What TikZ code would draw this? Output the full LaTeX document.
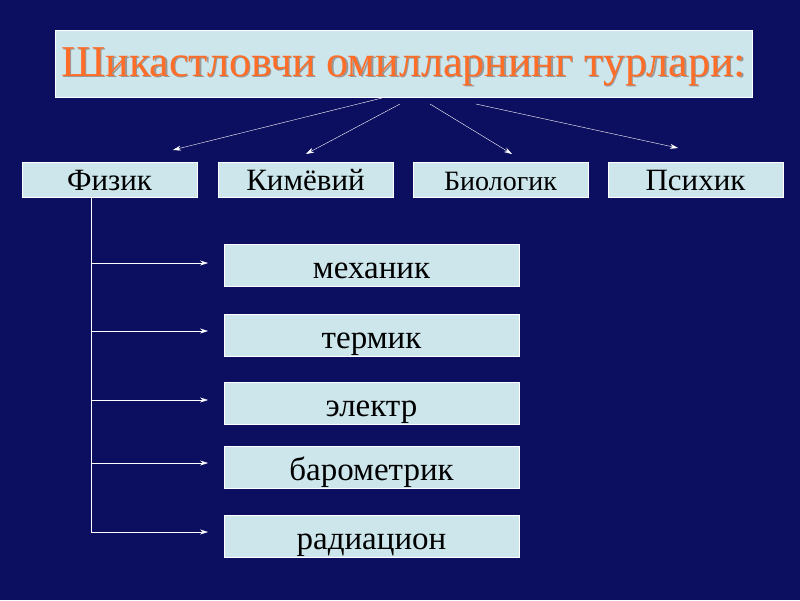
\documentclass[tikz,border=0pt]{standalone}
\usepackage{fontspec}
\setmainfont{Liberation Serif}
\usetikzlibrary{arrows.meta}
\definecolor{navy}{RGB}{12,14,96}
\definecolor{boxfill}{RGB}{204,230,236}
\definecolor{titleorange}{RGB}{255,110,40}
\begin{document}
\begin{tikzpicture}[x=1pt,y=-1pt]
    \tikzstyle{kind}=[draw=white,fill=boxfill,minimum width=175pt,minimum height=35pt,inner sep=0pt,text height=24pt,text depth=2pt,font=\fontsize{31}{31}\selectfont]
    \tikzstyle{sub}=[kind,minimum width=295pt,minimum height=42pt,text height=28pt,font=\fontsize{33}{33}\selectfont]
    \tikzstyle{link}=[white,thin,-{Stealth[length=8pt,width=5pt]}]
    \fill[navy] (0,0) rectangle (800,600);
    % Title
    \node[draw=white,fill=boxfill,minimum width=697pt,minimum height=67pt] (title) at (403.5,63.5) {};
    \node[text=black!40,font=\fontsize{44}{44}\selectfont] at (405,68) {Шикастловчи омилларнинг турлари:};
    \node[text=titleorange,font=\fontsize{44}{44}\selectfont] (titletext) at (403.5,66.5) {Шикастловчи омилларнинг турлари:};
    % Kinds
    \node[kind] (fizik) at (109.5,179.5) {Физик};
    \node[kind] (kimyo) at (305.5,179.5) {Кимёвий};
    \node[kind,font=\fontsize{28}{28}\selectfont] (bio) at (500.5,179.5) {Биологик};
    \node[kind] (psix) at (695.5,179.5) {Психик};
    \coordinate (t1) at (382,98); \coordinate (t2) at (400,104);
    \coordinate (t3) at (430,104); \coordinate (t4) at (476,104);
    \coordinate (e1) at (173,150); \coordinate (e2) at (306,154);
    \coordinate (e3) at (512,154); \coordinate (e4) at (678,148);
    \draw[link] (t1) -- (e1);
    \draw[link] (t2) -- (e2);
    \draw[link] (t3) -- (e3);
    \draw[link] (t4) -- (e4);
    % Physical subtypes
    \node[sub] (mex) at (371.5,265) {механик};
    \node[sub] (term) at (371.5,335) {термик};
    \node[sub] (el) at (371.5,403.5) {электр};
    \node[sub] (bar) at (371.5,467) {барометрик};
    \node[sub] (rad) at (371.5,536) {радиацион};
    \coordinate (trunk) at (91,197.5);
    \draw[white,thin] (trunk) -- (91,532);
    \foreach \y in {263,331,400,463,532}
        \draw[link] (91,\y) -- (208,\y);
\end{tikzpicture}
\end{document}
